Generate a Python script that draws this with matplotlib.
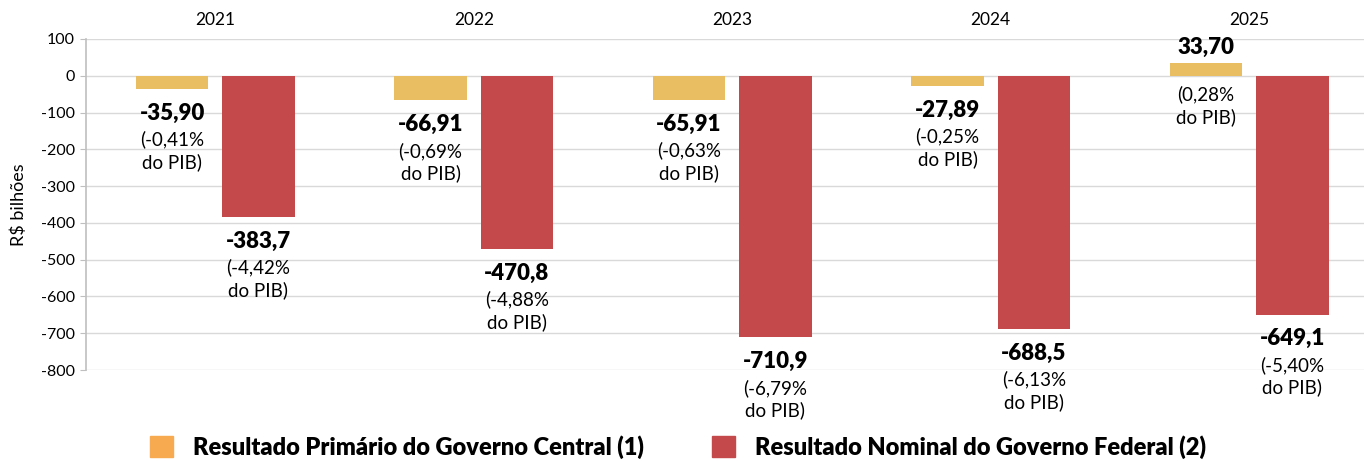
import matplotlib.pyplot as plt
from matplotlib.patches import Patch

plt.rcParams['font.family'] = ['Lato', 'DejaVu Sans']
plt.rcParams['axes.unicode_minus'] = False

years = ['2021', '2022', '2023', '2024', '2025']
primario = [-35.90, -66.91, -65.91, -27.89, 33.70]
nominal = [-383.7, -470.8, -710.9, -688.5, -649.1]
prim_labels = ['-35,90', '-66,91', '-65,91', '-27,89', '33,70']
prim_pib = ['(-0,41%\ndo PIB)', '(-0,69%\ndo PIB)', '(-0,63%\ndo PIB)', '(-0,25%\ndo PIB)', '(0,28%\ndo PIB)']
nom_labels = ['-383,7', '-470,8', '-710,9', '-688,5', '-649,1']
nom_pib = ['(-4,42%\ndo PIB)', '(-4,88%\ndo PIB)', '(-6,79%\ndo PIB)', '(-6,13%\ndo PIB)', '(-5,40%\ndo PIB)']

c_prim = '#E9BE62'
c_prim_leg = '#F7AA50'
c_nom = '#C3494B'

fig = plt.figure(figsize=(13.64, 4.61), dpi=100)
ax = fig.add_axes([86 / 1364, 1 - 370 / 461, 1278 / 1364, 331 / 461])

x = list(range(len(years)))
w = 0.28
off = 0.167
ax.bar([i - off for i in x], primario, width=w, color=c_prim, zorder=3)
ax.bar([i + off for i in x], nominal, width=w, color=c_nom, zorder=3)

ax.set_xlim(-0.5, 4.444)
ax.set_ylim(-800, 100)
ax.set_yticks(range(-800, 101, 100))
ax.set_xticks([])
ax.grid(axis='y', color='#d9d9d9', linewidth=1, zorder=0)
for s in ['top', 'right', 'bottom']:
    ax.spines[s].set_visible(False)
ax.spines['left'].set_color('#bfbfbf')
ax.spines['left'].set_linewidth(1.2)
ax.tick_params(axis='y', labelsize=11.5, color='#bfbfbf', length=4, pad=4)
ax.set_ylabel('R$ bilhões', fontsize=13)
ax.yaxis.set_label_coords(-0.046, 0.5)

for i, yr in enumerate(years):
    ax.text(i, 1.057, yr, transform=ax.get_xaxis_transform(), ha='center',
            va='center', fontsize=12.5)

bold_off = -10
pib_off = -30
for i in x:
    v = primario[i]
    if v < 0:
        ax.annotate(prim_labels[i], (i - off, v), xytext=(0, bold_off), textcoords='offset points',
                    ha='center', va='top', fontsize=16, fontweight='heavy')
        ax.annotate(prim_pib[i], (i - off, v), xytext=(0, pib_off), textcoords='offset points',
                    ha='center', va='top', fontsize=13.5, linespacing=1.3)
    else:
        ax.annotate(prim_labels[i], (i - off, v), xytext=(0, 4), textcoords='offset points',
                    ha='center', va='bottom', fontsize=16, fontweight='heavy')
        ax.annotate(prim_pib[i], (i - off, 0), xytext=(0, -7), textcoords='offset points',
                    ha='center', va='top', fontsize=13.5, linespacing=1.3)
    v = nominal[i]
    ax.annotate(nom_labels[i], (i + off, v), xytext=(0, bold_off), textcoords='offset points',
                ha='center', va='top', fontsize=16, fontweight='heavy')
    ax.annotate(nom_pib[i], (i + off, v), xytext=(0, pib_off), textcoords='offset points',
                ha='center', va='top', fontsize=13.5, linespacing=1.3)

handles = [Patch(color=c_prim_leg), Patch(color=c_nom)]
fig.legend(handles, ['Resultado Primário do Governo Central (1)',
                     'Resultado Nominal do Governo Federal (2)'],
           loc='center', bbox_to_anchor=(0.497, 0.03), ncol=2, frameon=False,
           prop={'size': 17, 'weight': 'heavy'}, handlelength=0.95, handleheight=1.0,
           columnspacing=2.9, handletextpad=0.85)

fig.savefig('out.png', dpi=100)
